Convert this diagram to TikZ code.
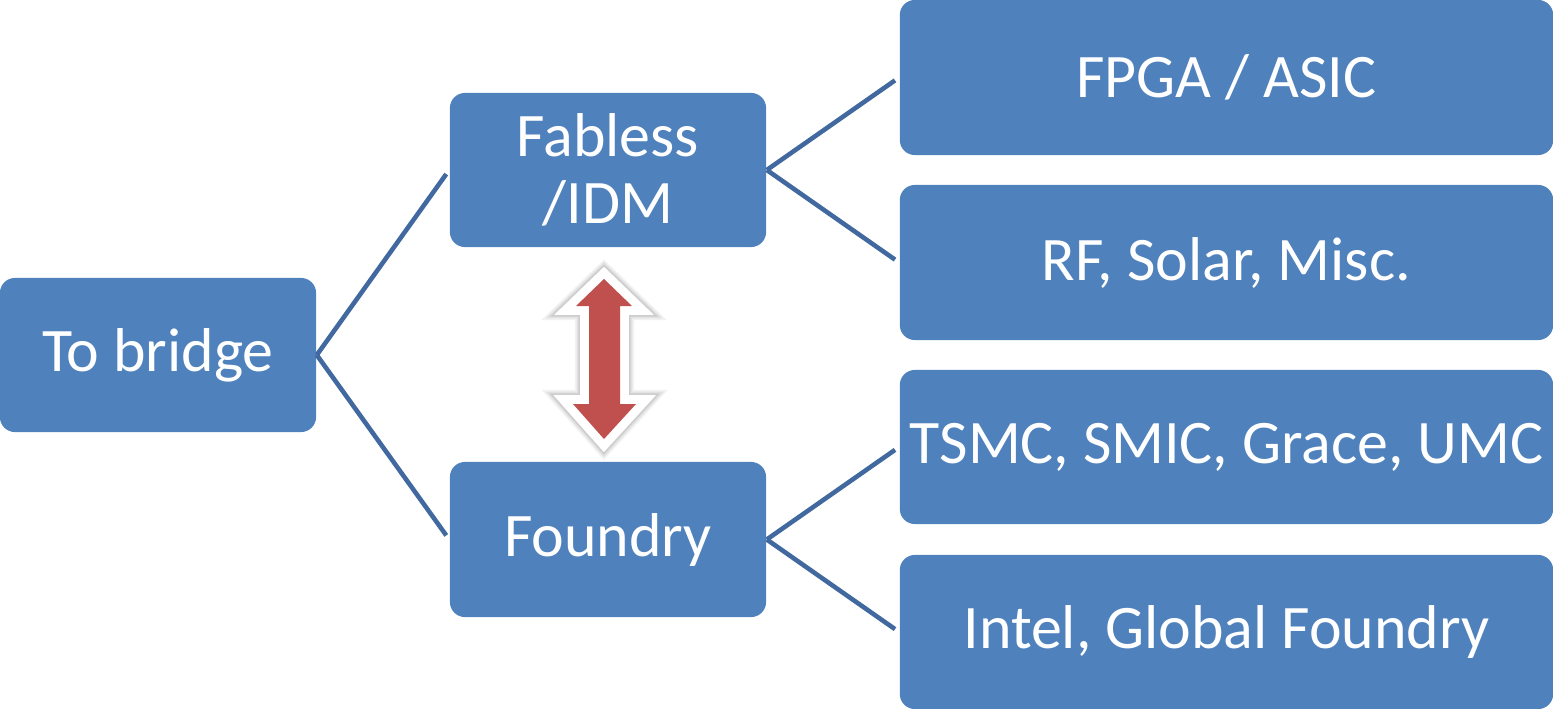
\documentclass[tikz,border=0pt]{standalone}
\usepackage{fontspec}
\setmainfont{Carlito}
\definecolor{boxblue}{HTML}{4F81BD}
\definecolor{lineblue}{HTML}{41699F}
\definecolor{arrowred}{HTML}{C0504D}
\tikzset{
	blockbox/.style={rectangle, rounded corners=0.15cm, fill=boxblue, text=white,
		font=\fontsize{17.6}{19}\selectfont, align=center, inner sep=0pt},
	link/.style={draw=lineblue, line width=1.3pt, shorten >=0.05cm}
}
\begin{document}
\begin{tikzpicture}[x=0.01cm, y=-0.01cm]

		\useasboundingbox(0, 0) rectangle (1553, 709);

		\node[blockbox, minimum width=3.16cm, minimum height=1.54cm] (bridge) at(158, 355){To bridge};

		\node[blockbox, minimum width=3.16cm, minimum height=1.54cm] (fabless) at(608, 170){Fabless\\/IDM};
		\node[blockbox, minimum width=3.16cm, minimum height=1.55cm] (foundry) at(608, 539.5){Foundry};

		\node[blockbox, minimum width=6.53cm, minimum height=1.55cm] (fpga) at(1226.5, 77.5){FPGA / ASIC};
		\node[blockbox, minimum width=6.53cm, minimum height=1.55cm] (rf) at(1226.5, 262.5){RF, Solar, Misc.};
		\node[blockbox, minimum width=6.53cm, minimum height=1.54cm] (tsmc) at(1226.5, 447){TSMC, SMIC, Grace, UMC};
		\node[blockbox, minimum width=6.53cm, minimum height=1.54cm] (intel) at(1226.5, 632){Intel, Global Foundry};

		\draw[link](bridge.east) to (fabless.west);
		\draw[link](bridge.east) to (foundry.west);
			\draw[link](fabless.east) to (fpga.west);
			\draw[link](fabless.east) to (rf.west);
			\draw[link](foundry.east) to (tsmc.west);
			\draw[link](foundry.east) to (intel.west);

		% double arrow between the two middle boxes
		\foreach \w/\o in {8/0.05, 7/0.07, 6/0.09}
			\draw[black, opacity=\o, line width=\w pt, line join=miter]
				(604, 279) -- (632, 306) -- (620, 306) -- (620, 404) -- (636, 404)
				-- (604, 439) -- (573, 404) -- (589, 404) -- (589, 306) -- (576, 306) -- cycle;
		\draw[white, line width=5pt, line join=miter, fill=arrowred]
			(604, 279) -- (632, 306) -- (620, 306) -- (620, 404) -- (636, 404)
			-- (604, 439) -- (573, 404) -- (589, 404) -- (589, 306) -- (576, 306) -- cycle;
		\fill[arrowred]
			(604, 279) -- (632, 306) -- (620, 306) -- (620, 404) -- (636, 404)
			-- (604, 439) -- (573, 404) -- (589, 404) -- (589, 306) -- (576, 306) -- cycle;

	\end{tikzpicture}
\end{document}
